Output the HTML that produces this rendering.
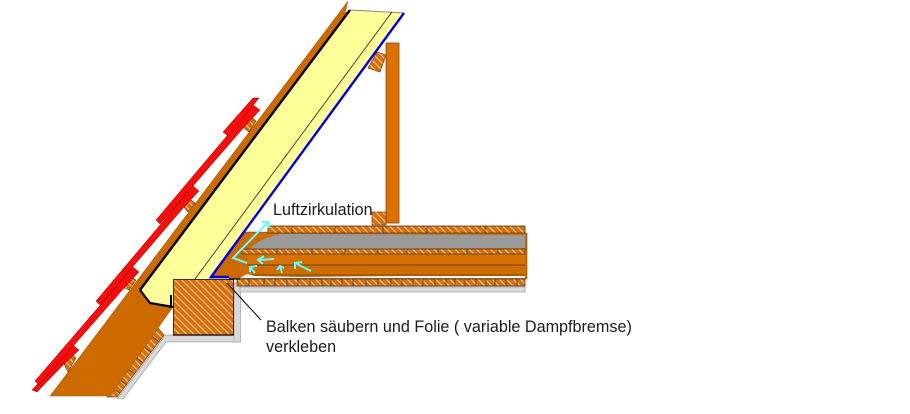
<!DOCTYPE html>
<html><head><meta charset="utf-8"><style>
html,body{margin:0;padding:0;background:#fff;width:910px;height:414px;overflow:hidden}
svg{display:block}
text{font-family:"Liberation Sans",Arial,sans-serif;fill:#1a1a1a}
</style></head><body>
<svg width="910" height="414" viewBox="0 0 910 414" xmlns="http://www.w3.org/2000/svg">
<defs>
<pattern id="h" width="5" height="5" patternUnits="userSpaceOnUse" patternTransform="rotate(-45)">
<rect width="5" height="5" fill="#d4700f"/><rect width="1.2" height="5" fill="#f0bd85"/>
</pattern>
<filter id="b" x="0" y="0" width="100%" height="100%"><feGaussianBlur stdDeviation="0.35"/></filter>
</defs>
<rect width="910" height="414" fill="#fff"/>
<g filter="url(#b)">

<!-- lower grey lining -->
<polygon points="162,335 240,335 240,342 166,342 123,399 117,399 164,337" fill="#d9d9d9" stroke="#a0a0a0" stroke-width=".7"/>
<rect x="234" y="283" width="6.500" height="59" fill="#d9d9d9" stroke="#a0a0a0" stroke-width=".7"/>
<!-- lower hatched boards -->
<polygon points="158,328 164,335 117,397 107,397" fill="url(#h)" stroke="#7a4a20" stroke-width=".7"/>
<g stroke="#5a4a3a" stroke-width="1">
<line x1="152" y1="336" x2="159" y2="342"/><line x1="144" y1="347" x2="151" y2="352"/><line x1="136" y1="358" x2="143" y2="363"/><line x1="128" y1="369" x2="135" y2="374"/><line x1="120" y1="380" x2="127" y2="385"/><line x1="113" y1="389" x2="120" y2="393"/>
</g>

<!-- rafter/brown -->
<polygon points="348,1 345,13 350,10 140,290 150,303 173,307 110,396 50,396" fill="#cc6a00" stroke="#8a5a20" stroke-width=".5"/>
<!-- insulation -->
<polygon points="350,10 404,13 211,278 173,280 173,307 150,303 140,290" fill="#ffff99"/>
<polyline points="140,290 350,10" fill="none" stroke="#000" stroke-width="2.400"/>
<polyline points="140,290 150,303 173,307" fill="none" stroke="#000" stroke-width="2.200"/>
<line x1="171" y1="295" x2="171" y2="307" stroke="#000" stroke-width="2"/>
<line x1="350" y1="10" x2="404" y2="13" stroke="#888" stroke-width="1"/>
<line x1="392" y1="12" x2="195" y2="279" stroke="#222" stroke-width=".8"/>

<!-- vertical board -->
<rect x="386" y="43" width="13" height="180" fill="#dc7000" stroke="#7a4a20" stroke-width=".8"/>
<polygon points="368,68 377,52 386,55 380,72" fill="url(#h)" stroke="#7a4a20" stroke-width=".7"/>
<rect x="372" y="212" width="14" height="13" fill="url(#h)" stroke="#7a4a20" stroke-width=".7"/>

<!-- battens -->
<g fill="url(#h)" stroke="#7a4a20" stroke-width=".7">
<polygon points="63,362 70,353 76,358 68,372"/>
<polygon points="122,287 128,276 136,280 129,290"/>
<polygon points="182,205 188,198 195,203 188,212"/>
<polygon points="243,127 250,116 256,121 249,132"/>
</g>
<!-- red tiles, lowest first so each upper plank overlaps the next -->
<g fill="#f80808" stroke="#8a0000" stroke-width=".5">
<polygon points="32,390 73,345 79,350 64,364 37,392"/>
<polygon points="35,381 133,267 139,272 124,288 39,385"/>
<polygon points="96,301 193,186 199,191 184,207 100,305"/>
<polygon points="156,220 253,105 260,110 245,126 160,224"/>
<polygon points="223,132 253,98 259,98 228,136"/>
</g>

<!-- floor package -->
<polygon points="245,232 527,233 527,279 210,278" fill="#cc6a00" stroke="#7a4a20" stroke-width=".6"/>
<path d="M250,249 Q258,239 280,234 L525,235 L525,248 Z" fill="#9a9a9a"/>
<rect x="247" y="254" width="278" height="11" fill="#d87000"/>
<rect x="240" y="265" width="285" height="10" fill="#cf6c00"/>
<line x1="247" y1="265" x2="525" y2="265" stroke="#6a4010" stroke-width=".9"/>
<line x1="252" y1="275" x2="525" y2="275" stroke="#6a4010" stroke-width=".8"/>
<polygon points="240,278 247,274 255,276 300,277 400,276 525,276 525,278" fill="#f4f4f4"/>

<!-- top boards -->
<g fill="url(#h)" stroke="#5a4a30" stroke-width=".9">
<rect x="268" y="226" width="24" height="7"/><rect x="292" y="226" width="43" height="7"/><rect x="335" y="226" width="48" height="7"/><rect x="383" y="226" width="44" height="7"/><rect x="427" y="226" width="58" height="7"/><rect x="485" y="226" width="40" height="7"/>
<!-- middle boards -->
<rect x="242" y="249" width="35" height="5"/><rect x="277" y="249" width="35" height="5"/><rect x="312" y="249" width="33" height="5"/><rect x="345" y="249" width="33" height="5"/><rect x="378" y="249" width="29" height="5"/><rect x="407" y="249" width="31" height="5"/><rect x="438" y="249" width="29" height="5"/><rect x="467" y="249" width="31" height="5"/><rect x="498" y="249" width="27" height="5"/>
<!-- bottom boards -->
<rect x="237" y="279" width="12" height="7"/><rect x="249" y="279" width="15" height="7"/><rect x="264" y="279" width="11" height="7"/><rect x="275" y="279" width="12" height="7"/><rect x="287" y="279" width="11" height="7"/><rect x="298" y="279" width="12" height="7"/><rect x="310" y="279" width="12" height="7"/><rect x="322" y="279" width="9" height="7"/><rect x="331" y="279" width="11" height="7"/><rect x="342" y="279" width="11" height="7"/><rect x="353" y="279" width="13" height="7"/><rect x="366" y="279" width="12" height="7"/><rect x="378" y="279" width="13" height="7"/><rect x="391" y="279" width="11" height="7"/><rect x="402" y="279" width="11" height="7"/><rect x="413" y="279" width="10" height="7"/><rect x="423" y="279" width="12" height="7"/><rect x="435" y="279" width="11" height="7"/><rect x="446" y="279" width="9" height="7"/><rect x="455" y="279" width="10" height="7"/><rect x="465" y="279" width="11" height="7"/><rect x="476" y="279" width="10" height="7"/><rect x="486" y="279" width="9" height="7"/><rect x="495" y="279" width="11" height="7"/><rect x="506" y="279" width="11" height="7"/><rect x="517" y="279" width="8" height="7"/>
</g>
<rect x="240" y="287" width="285" height="5" fill="#dcdcdc" stroke="#a0a0a0" stroke-width=".7"/>

<!-- beam -->
<rect x="173.500" y="279.500" width="60" height="55.500" fill="url(#h)" stroke="#3a2a1a" stroke-width="1"/>
<line x1="173" y1="335" x2="234" y2="335" stroke="#000" stroke-width="1.200"/>
<line x1="229" y1="279" x2="240" y2="279" stroke="#000" stroke-width="1.200"/>

<!-- blue membrane -->
<polyline points="404,13 211,277 229,277" fill="none" stroke="#0000e0" stroke-width="2.400"/>

<!-- leader -->
<line x1="227" y1="283" x2="261" y2="320" stroke="#000" stroke-width="1"/>

<!-- air arrows -->
<g fill="none" stroke="#66ffff" stroke-width="2">
<polyline points="247,263 233,258 268,222"/><polyline points="262,222 268,222 269,228"/>
<polyline points="274,259 258,260"/><polyline points="264,256 258,260 263,264"/>
<polyline points="255,273 250,267"/><polyline points="257,266 250,267 250,272"/>
<polyline points="282,273 280,266"/><polyline points="284,268 280,266 277,270"/>
<polyline points="311,271 295,263"/><polyline points="302,262 295,263 295,269"/>
</g>

<!-- labels -->
<text x="273" y="215" font-size="16.150">Luftzirkulation</text>
<text x="266" y="332" font-size="16.180">Balken säubern und Folie ( variable Dampfbremse)</text>
<text x="266" y="352" font-size="16.180">verkleben</text>
</g>
</svg>
</body></html>
